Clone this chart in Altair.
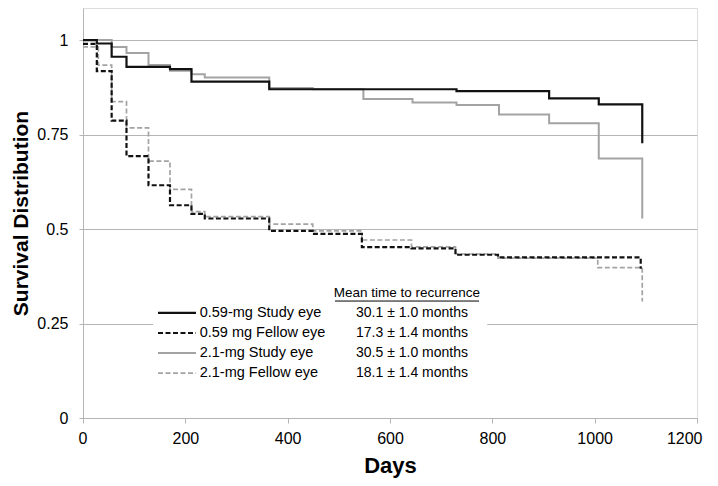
import altair as alt
import pandas as pd

FONT = "Liberation Sans"

# ---- data (days, survival) ----
days_059_study = [0, 27, 56, 85, 170, 212, 364, 730, 911, 1008, 1093]
surv_059_study = [1.0, 0.991, 0.956, 0.929, 0.923, 0.890, 0.870, 0.865, 0.846, 0.830, 0.727]

days_059_fellow = [0, 27, 56, 85, 128, 170, 212, 238, 364, 449, 545, 642, 728, 811, 1090]
surv_059_fellow = [0.99, 0.918, 0.787, 0.693, 0.616, 0.563, 0.540, 0.528, 0.495, 0.487, 0.452, 0.449, 0.432, 0.425, 0.395]

days_21_study = [0, 56, 85, 128, 170, 212, 238, 364, 449, 548, 644, 730, 813, 911, 1008, 1093]
surv_21_study = [1.0, 0.982, 0.966, 0.934, 0.919, 0.910, 0.901, 0.873, 0.870, 0.844, 0.835, 0.828, 0.803, 0.780, 0.687, 0.528]

days_21_fellow = [0, 30, 56, 85, 128, 170, 212, 238, 364, 449, 545, 642, 728, 811, 1006, 1093]
surv_21_fellow = [0.982, 0.934, 0.837, 0.768, 0.680, 0.605, 0.546, 0.533, 0.513, 0.495, 0.471, 0.453, 0.434, 0.423, 0.398, 0.308]

series_names = ["0.59-mg Study eye", "0.59 mg Fellow eye", "2.1-mg Study eye", "2.1-mg Fellow eye"]
mean_times = ["30.1 \u00b1 1.0 months", "17.3 \u00b1 1.4 months", "30.5 \u00b1 1.0 months", "18.1 \u00b1 1.4 months"]
legend_header = "Mean time to recurrence"

x_ticks = [0, 200, 400, 600, 800, 1000, 1200]
y_ticks = [0, 0.25, 0.5, 0.75, 1]

# ---- styles ----
styles = {
    "0.59-mg Study eye": dict(color="#111111", strokeWidth=2.2),
    "0.59 mg Fellow eye": dict(color="#111111", strokeWidth=2.2, strokeDash=[5, 2.5]),
    "2.1-mg Study eye": dict(color="#a3a3a3", strokeWidth=2.0),
    "2.1-mg Fellow eye": dict(color="#a3a3a3", strokeWidth=1.7, strokeDash=[5, 2.5]),
}
series_data = {
    "0.59-mg Study eye": (days_059_study, surv_059_study),
    "0.59 mg Fellow eye": (days_059_fellow, surv_059_fellow),
    "2.1-mg Study eye": (days_21_study, surv_21_study),
    "2.1-mg Fellow eye": (days_21_fellow, surv_21_fellow),
}

YMAX = 1.085
x_scale = alt.Scale(domain=[0, 1200], nice=False)
y_scale = alt.Scale(domain=[0, YMAX], nice=False)

x_axis = alt.Axis(values=x_ticks, title="Days", grid=False, format="d",
                  labelFlush=True, labelFlushOffset=5,
                  domainColor="#b5b5b5", tickColor="#b5b5b5", tickSize=5,
                  labelFont=FONT, labelFontSize=16, labelColor="black", labelPadding=7,
                  titleFont=FONT, titleFontSize=22, titleFontWeight="bold",
                  titleColor="black", titlePadding=9)
y_axis = alt.Axis(values=y_ticks, title="Survival Distribution", grid=True, format=".2~f",
                  labelFlush=False,
                  gridColor="#b5b5b5", gridWidth=1,
                  domainColor="#b5b5b5", tickColor="#b5b5b5", tickSize=4,
                  labelFont=FONT, labelFontSize=16, labelColor="black", labelPadding=11,
                  titleFont=FONT, titleFontSize=21, titleFontWeight="bold",
                  titleColor="black", titlePadding=5)

X = alt.X("day:Q", scale=x_scale, axis=x_axis)
Y = alt.Y("surv:Q", scale=y_scale, axis=y_axis)

layers = []
draw_order = ["2.1-mg Fellow eye", "2.1-mg Study eye", "0.59 mg Fellow eye", "0.59-mg Study eye"]
for name in draw_order:
    d, s = series_data[name]
    df = pd.DataFrame({"day": d, "surv": s})
    st = styles[name]
    kw = dict(color=st["color"], strokeWidth=st["strokeWidth"], interpolate="step-after", strokeCap="butt")
    if "strokeDash" in st:
        kw["strokeDash"] = st["strokeDash"]
    layers.append(alt.Chart(df).mark_line(**kw).encode(x=X, y=Y))

# ---- legend box (inside plot) ----
box = pd.DataFrame({"day": [137], "day2": [790], "surv": [0.074], "surv2": [0.365]})
layers.append(alt.Chart(box).mark_rect(fill="white").encode(
    x=X, x2="day2:Q", y=Y, y2="surv2:Q"))

row_y = [0.278, 0.225, 0.172, 0.119]
sym_x0, sym_x1, text_x, val_x = 146.6, 220.8, 228.0, 643.0
for i, name in enumerate(series_names):
    st = styles[name]
    kw = dict(color=st["color"], strokeWidth=st["strokeWidth"], strokeCap="butt")
    if "strokeDash" in st:
        kw["strokeDash"] = st["strokeDash"]
    rdf = pd.DataFrame({"day": [sym_x0], "day2": [sym_x1], "surv": [row_y[i]]})
    layers.append(alt.Chart(rdf).mark_rule(**kw).encode(x=X, x2="day2:Q", y=Y))

lab_df = pd.DataFrame({"day": [text_x] * 4, "surv": row_y, "label": series_names})
layers.append(alt.Chart(lab_df).mark_text(align="left", baseline="middle", font=FONT,
                                          fontSize=14.5, color="black").encode(
    x=X, y=Y, text="label:N"))

val_df = pd.DataFrame({"day": [val_x] * 4, "surv": row_y, "label": mean_times})
layers.append(alt.Chart(val_df).mark_text(align="center", baseline="middle", font=FONT,
                                          fontSize=14, color="black").encode(
    x=X, y=Y, text="label:N"))

hdr_df = pd.DataFrame({"day": [633.0], "surv": [0.331], "label": [legend_header]})
layers.append(alt.Chart(hdr_df).mark_text(align="center", baseline="middle", font=FONT,
                                          fontSize=13.5, color="black").encode(
    x=X, y=Y, text="label:N"))
ul_df = pd.DataFrame({"day": [492.5], "day2": [774.0], "surv": [0.3095]})
layers.append(alt.Chart(ul_df).mark_rule(color="black", strokeWidth=1).encode(
    x=X, x2="day2:Q", y=Y))

chart = alt.layer(*layers).properties(
    width=614, height=410,
    autosize=alt.AutoSizeParams(type="none"),
    padding={"left": 75, "top": 0, "right": 13, "bottom": 60},
).configure_view(stroke=None).configure(background="white")

chart.save("out.html", embed_options={"renderer": "svg", "actions": False})
